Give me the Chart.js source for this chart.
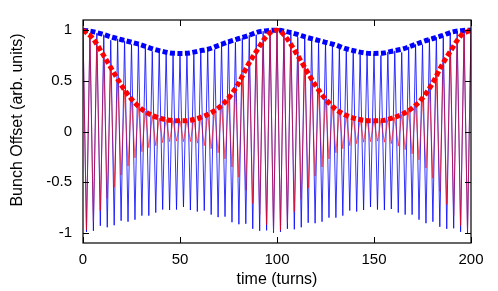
<!DOCTYPE html>
<html>
<head>
<meta charset="utf-8">
<script src="https://cdn.jsdelivr.net/npm/chart.js@4.4.0/dist/chart.umd.min.js"></script>
<style>
  html, body { margin: 0; padding: 0; background: #fff; }
</style>
</head>
<body>
<canvas id="beamChart" width="498" height="291"></canvas>
<script>
// turn numbers of the turning points of the oscillation
const turns = [
  0, 1.79, 3.57, 5.36, 7.14, 8.93, 10.71, 12.5, 14.29, 16.07, 17.86, 19.64, 21.43, 23.21, 25,
  26.79, 28.57, 30.36, 32.14, 33.93, 35.71, 37.5, 39.29, 41.07, 42.86, 44.64, 46.43, 48.21, 50,
  51.79, 53.57, 55.36, 57.14, 58.93, 60.71, 62.5, 64.29, 66.07, 67.86, 69.64, 71.43, 73.21, 75,
  76.79, 78.57, 80.36, 82.14, 83.93, 85.71, 87.5, 89.29, 91.07, 92.86, 94.64, 96.43, 98.21, 100,
  101.79, 103.57, 105.36, 107.14, 108.93, 110.71, 112.5, 114.29, 116.07, 117.86, 119.64, 121.43, 123.21, 125,
  126.79, 128.57, 130.36, 132.14, 133.93, 135.71, 137.5, 139.29, 141.07, 142.86, 144.64, 146.43, 148.21, 150,
  151.79, 153.57, 155.36, 157.14, 158.93, 160.71, 162.5, 164.29, 166.07, 167.86, 169.64, 171.43, 173.21, 175,
  176.79, 178.57, 180.36, 182.14, 183.93, 185.71, 187.5, 189.29, 191.07, 192.86, 194.64, 196.43, 198.21, 200
];

// blue bunch offset
const bunchBlue = [
  1.00, -0.99, 0.97, -0.98, 0.97, -0.93, 0.955, -0.945, 0.90, -0.925, 0.915, -0.88, 0.895, -0.89, 0.86,
  -0.87, 0.86, -0.83, 0.84, -0.83, 0.79, -0.80, 0.80, -0.77, 0.78, -0.775, 0.75, -0.77, 0.77,
  -0.745, 0.77, -0.775, 0.76, -0.79, 0.795, -0.78, 0.81, -0.82, 0.81, -0.845, 0.86, -0.84, 0.885,
  -0.895, 0.88, -0.915, 0.925, -0.91, 0.95, -0.96, 0.955, -0.98, 0.99, -0.975, 0.995, -1.00, 1.00,
  -0.99, 0.99, -0.96, 0.975, -0.965, 0.93, -0.945, 0.935, -0.90, 0.915, -0.905, 0.87, -0.89, 0.88,
  -0.85, 0.86, -0.85, 0.815, -0.83, 0.815, -0.78, 0.80, -0.79, 0.76, -0.775, 0.77, -0.745, 0.77,
  -0.77, 0.75, -0.775, 0.785, -0.765, 0.795, -0.80, 0.78, -0.82, 0.835, -0.82, 0.86, -0.87, 0.855,
  -0.905, 0.915, -0.89, 0.93, -0.94, 0.925, -0.96, 0.975, -0.955, 0.99, -0.99, 0.975, -1.00, 1.00
];

// red bunch offset
const bunchRed = [
  1.00, -0.97, 0.945, -0.89, 0.85, -0.78, 0.745, -0.66, 0.63, -0.55, 0.515, -0.43, 0.41, -0.34, 0.32,
  -0.26, 0.25, -0.20, 0.20, -0.16, 0.16, -0.14, 0.135, -0.11, 0.12, -0.10, 0.11, -0.095, 0.105,
  -0.10, 0.11, -0.10, 0.12, -0.115, 0.14, -0.14, 0.17, -0.17, 0.21, -0.21, 0.26, -0.27, 0.33,
  -0.35, 0.43, -0.45, 0.55, -0.58, 0.675, -0.71, 0.79, -0.82, 0.89, -0.92, 0.965, -0.98, 1.00,
  -0.975, 0.94, -0.90, 0.855, -0.79, 0.745, -0.67, 0.63, -0.56, 0.52, -0.44, 0.41, -0.35, 0.32,
  -0.27, 0.25, -0.21, 0.20, -0.17, 0.16, -0.14, 0.135, -0.12, 0.12, -0.105, 0.11, -0.10, 0.105,
  -0.095, 0.11, -0.105, 0.12, -0.12, 0.14, -0.145, 0.17, -0.18, 0.21, -0.22, 0.26, -0.28, 0.33,
  -0.36, 0.43, -0.46, 0.55, -0.59, 0.675, -0.72, 0.79, -0.83, 0.89, -0.93, 0.965, -0.985, 1.00
];

// envelopes (dotted curves)
const envTurns = [0, 5, 10, 15, 20, 25, 30, 35, 40, 45, 50, 55, 60, 65, 70, 75, 80, 85, 90, 95, 100,
  105, 110, 115, 120, 125, 130, 135, 140, 145, 150, 155, 160, 165, 170, 175, 180, 185, 190, 195, 200];
const envBlue = [1.0, 0.985, 0.96, 0.93, 0.905, 0.88, 0.855, 0.82, 0.795, 0.775, 0.77, 0.775, 0.795, 0.815, 0.85, 0.885, 0.915, 0.945, 0.98, 0.995, 1.0,
  0.985, 0.96, 0.93, 0.905, 0.88, 0.855, 0.82, 0.795, 0.775, 0.77, 0.775, 0.795, 0.815, 0.85, 0.885, 0.915, 0.945, 0.98, 0.995, 1.0];
const envRed = [1.0, 0.92, 0.77, 0.61, 0.45, 0.32, 0.225, 0.165, 0.13, 0.11, 0.105, 0.11, 0.135, 0.175, 0.235, 0.33, 0.47, 0.655, 0.81, 0.95, 1.0,
  0.92, 0.77, 0.61, 0.45, 0.32, 0.225, 0.165, 0.13, 0.11, 0.105, 0.11, 0.135, 0.175, 0.235, 0.33, 0.47, 0.655, 0.81, 0.95, 1.0];

const xTicks = [0, 50, 100, 150, 200];
const yTicks = [-1, -0.5, 0, 0.5, 1];

const FONT = '"Liberation Sans", Arial, Helvetica, sans-serif';
Chart.defaults.font.family = FONT;
Chart.defaults.color = '#000';

function pts(xs, ys) {
  return xs.map((x, i) => ({ x: x, y: ys[i] }));
}

// frame, inward ticks and the y label (gnuplot look)
const framePlugin = {
  id: 'frame',
  afterDatasetsDraw(chart) {
    const { ctx, chartArea: a, scales } = chart;
    ctx.save();
    ctx.strokeStyle = '#000';
    ctx.lineWidth = 1.2;
    ctx.strokeRect(a.left, a.top, a.right - a.left, a.bottom - a.top);
    ctx.lineWidth = 1;
    ctx.beginPath();
    xTicks.forEach(v => {
      const px = Math.round(scales.x.getPixelForValue(v)) + 0.5;
      ctx.moveTo(px, a.bottom); ctx.lineTo(px, a.bottom - 6);
      ctx.moveTo(px, a.top); ctx.lineTo(px, a.top + 6);
    });
    yTicks.forEach(v => {
      const py = Math.round(scales.y.getPixelForValue(v)) + 0.5;
      ctx.moveTo(a.left, py); ctx.lineTo(a.left + 6, py);
      ctx.moveTo(a.right, py); ctx.lineTo(a.right - 6, py);
    });
    ctx.stroke();

    ctx.translate(17.5, 120);
    ctx.rotate(-Math.PI / 2);
    ctx.font = '16px ' + FONT;
    ctx.fillStyle = '#000';
    ctx.textAlign = 'center';
    ctx.textBaseline = 'middle';
    ctx.fillText('Bunch Offset (arb. units)', 0, 0);
    ctx.restore();
  }
};

new Chart(document.getElementById('beamChart'), {
  type: 'line',
  data: {
    datasets: [
      {
        data: pts(envTurns, envRed),
        borderColor: '#ff0000',
        borderWidth: 5,
        borderDash: [5, 2.5],
        borderCapStyle: 'butt',
        cubicInterpolationMode: 'monotone',
        pointRadius: 0,
        order: 1
      },
      {
        data: pts(envTurns, envBlue),
        borderColor: '#0000ff',
        borderWidth: 5,
        borderDash: [5, 2.5],
        borderCapStyle: 'butt',
        cubicInterpolationMode: 'monotone',
        pointRadius: 0,
        order: 2
      },
      {
        data: pts(turns, bunchRed),
        borderColor: 'rgba(255, 0, 0, 0.6)',
        borderWidth: 1,
        borderJoinStyle: 'round',
        pointRadius: 0,
        tension: 0,
        order: 3
      },
      {
        data: pts(turns, bunchBlue),
        borderColor: 'rgba(0, 0, 255, 0.8)',
        borderWidth: 1,
        borderJoinStyle: 'round',
        pointRadius: 0,
        tension: 0,
        order: 4
      }
    ]
  },
  options: {
    responsive: false,
    animation: false,
    devicePixelRatio: 1,
    layout: { padding: { left: 0, right: 27, top: 19, bottom: 0 } },
    plugins: {
      legend: { display: false },
      tooltip: { enabled: false }
    },
    scales: {
      x: {
        type: 'linear',
        min: 0,
        max: 200,
        afterBuildTicks: s => { s.ticks = xTicks.map(v => ({ value: v })); },
        afterFit: s => { s.height = 48; },
        grid: { display: false, drawTicks: false },
        border: { display: false },
        ticks: {
          font: { size: 15 },
          padding: 8,
          maxRotation: 0,
          autoSkip: false,
          callback: v => String(v)
        },
        title: {
          display: true,
          text: 'time (turns)',
          font: { size: 16 },
          padding: { top: 0, bottom: 2 }
        }
      },
      y: {
        type: 'linear',
        min: -1.1,
        max: 1.1,
        afterBuildTicks: s => { s.ticks = yTicks.map(v => ({ value: v })); },
        afterFit: s => { s.width = 83; },
        grid: { display: false, drawTicks: false },
        border: { display: false },
        ticks: {
          font: { size: 15 },
          padding: 11,
          autoSkip: false,
          callback: v => String(v)
        }
      }
    }
  },
  plugins: [framePlugin]
});
</script>
</body>
</html>
